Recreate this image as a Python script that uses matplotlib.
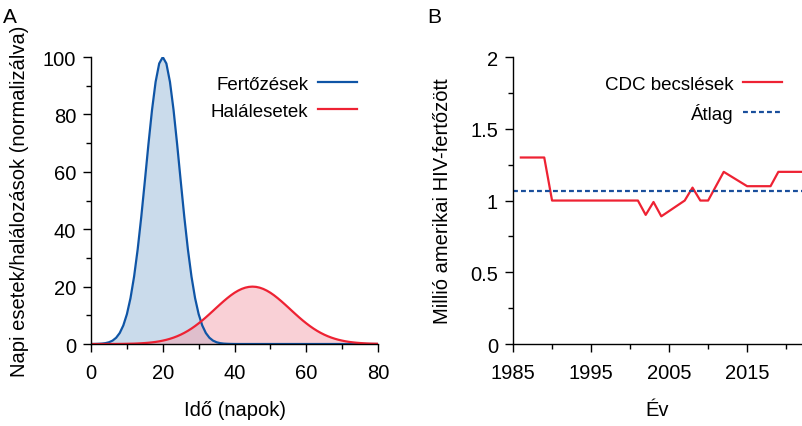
import matplotlib
matplotlib.use("Agg")
import matplotlib.pyplot as plt
from matplotlib.ticker import MultipleLocator

plt.rcParams["font.family"] = ["Liberation Sans", "DejaVu Sans"]

# Panel A: daily infections and deaths (normalized), days 0..80
days = list(range(0, 81))
infections = [
    0.01, 0.03, 0.07, 0.14, 0.30, 0.61, 1.18, 2.18, 3.84, 6.47,
    10.40, 15.99, 23.49, 32.98, 44.27, 56.78, 69.62, 81.57, 91.35, 97.76,
    100.0,
    97.76, 91.35, 81.57, 69.62, 56.78, 44.27, 32.98, 23.49, 15.99, 10.40,
    6.47, 3.84, 2.18, 1.18, 0.61, 0.30, 0.14, 0.07, 0.03, 0.01,
    0.0, 0.0, 0.0, 0.0, 0.0, 0.0, 0.0, 0.0, 0.0, 0.0,
    0.0, 0.0, 0.0, 0.0, 0.0, 0.0, 0.0, 0.0, 0.0, 0.0,
    0.0, 0.0, 0.0, 0.0, 0.0, 0.0, 0.0, 0.0, 0.0, 0.0,
    0.0, 0.0, 0.0, 0.0, 0.0, 0.0, 0.0, 0.0, 0.0, 0.0,
]
deaths = [
    0.0, 0.0, 0.0, 0.01, 0.01, 0.01, 0.02, 0.03, 0.04, 0.06,
    0.08, 0.11, 0.14, 0.19, 0.26, 0.34, 0.44, 0.57, 0.73, 0.93,
    1.18, 1.47, 1.82, 2.23, 2.71, 3.26, 3.89, 4.60, 5.39, 6.26,
    7.21, 8.22, 9.29, 10.41, 11.55, 12.71, 13.85, 14.96, 16.01, 16.99,
    17.86, 18.60, 19.20, 19.64, 19.91, 20.0,
    19.91, 19.64, 19.20, 18.60, 17.86, 16.99, 16.01, 14.96, 13.85, 12.71,
    11.55, 10.41, 9.29, 8.22, 7.21, 6.26, 5.39, 4.60, 3.89, 3.26,
    2.71, 2.23, 1.82, 1.47, 1.18, 0.93, 0.73, 0.57, 0.44, 0.34,
    0.26, 0.19, 0.14, 0.11, 0.08,
]

# Panel B: CDC estimates of Americans living with HIV (millions)
years = [1986, 1989, 1990, 2001, 2002, 2003, 2004, 2007, 2008, 2009,
         2010, 2012, 2015, 2018, 2019, 2022]
estimates = [1.3, 1.3, 1.0, 1.0, 0.9, 0.99, 0.89, 1.0, 1.09, 1.0,
             1.0, 1.2, 1.1, 1.1, 1.2, 1.2]
mean_estimate = 1.07

BLUE = "#0f55a6"
RED = "#ee2233"
DASH_BLUE = "#1a4f9c"

fig = plt.figure(figsize=(8.02, 4.27), dpi=100)
axA = fig.add_axes([0.1135, 0.192, 0.3579, 0.672])
axB = fig.add_axes([0.6397, 0.192, 0.3600, 0.672])

for ax in (axA, axB):
    for side in ("top", "right"):
        ax.spines[side].set_visible(False)
    for side in ("left", "bottom"):
        ax.spines[side].set_linewidth(1.0)
    ax.tick_params(which="major", direction="out", length=5.8, width=1.0,
                   labelsize=14.5)
    ax.tick_params(which="minor", direction="out", length=3.6, width=1.0)
    ax.tick_params(axis="x", which="major", pad=8)
    ax.tick_params(axis="y", which="major", pad=5)

# Panel A
axA.fill_between(days, infections, color="#a8c3df", alpha=0.6, lw=0)
axA.fill_between(days, deaths, color="#f5a3ae", alpha=0.5, lw=0)
axA.plot(days, infections, color=BLUE, lw=1.6, label="Fertőzések")
axA.plot(days, deaths, color=RED, lw=1.6, label="Halálesetek")
axA.set_xlim(0, 80)
axA.set_ylim(0, 100)
axA.xaxis.set_major_locator(MultipleLocator(20))
axA.xaxis.set_minor_locator(MultipleLocator(10))
axA.yaxis.set_major_locator(MultipleLocator(20))
axA.yaxis.set_minor_locator(MultipleLocator(10))
axA.set_xlabel("Idő (napok)", fontsize=14.5, labelpad=13)
axA.set_ylabel("Napi esetek/halálozások (normalizálva)", fontsize=14.5, labelpad=10)
axA.legend(loc="upper right", bbox_to_anchor=(0.985, 0.995), frameon=False,
           markerfirst=False, fontsize=13.5, handlelength=2.1,
           handletextpad=0.5, labelspacing=0.55)
fig.text(0.004, 0.982, "A", fontsize=15, va="top", ha="left")

# Panel B
axB.plot(years, estimates, color=RED, lw=1.6, label="CDC becslések")
axB.axhline(mean_estimate, color=DASH_BLUE, lw=1.6, ls=(0, (2.2, 1.4)),
            label="Átlag")
axB.set_xlim(1985, 2022)
axB.set_ylim(0, 2)
axB.set_xticks([1985, 1995, 2005, 2015])
axB.xaxis.set_minor_locator(MultipleLocator(5))
axB.yaxis.set_major_locator(MultipleLocator(0.5))
axB.yaxis.set_minor_locator(MultipleLocator(0.25))
axB.yaxis.set_major_formatter(plt.FuncFormatter(lambda v, p: f"{v:g}"))
axB.set_xlabel("Év", fontsize=14.5, labelpad=13)
axB.set_ylabel("Millió amerikai HIV-fertőzött", fontsize=14.5, labelpad=13)
axB.legend(loc="upper right", bbox_to_anchor=(0.99, 0.995), frameon=False,
           markerfirst=False, fontsize=13.5, handlelength=2.1,
           handletextpad=0.5, labelspacing=0.55)
fig.text(0.533, 0.982, "B", fontsize=15, va="top", ha="left")

fig.savefig("out.png", dpi=100)
